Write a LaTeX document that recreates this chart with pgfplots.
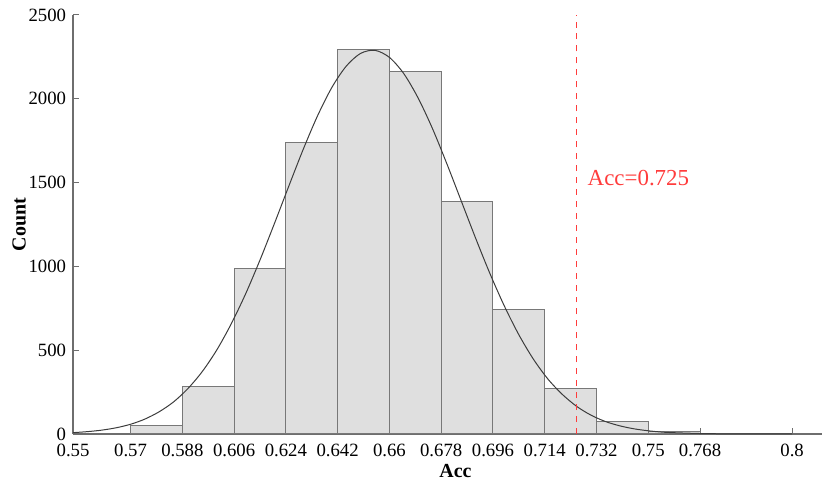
\documentclass[border=0pt]{standalone}
\usepackage{pgfplots}
\pgfplotsset{compat=1.18}
\usepackage{fontspec}
\setmainfont{Liberation Serif}

\definecolor{barfill}{RGB}{223,223,223}
\definecolor{baredge}{RGB}{120,120,120}
\definecolor{axgray}{RGB}{110,110,110}
\definecolor{fitline}{RGB}{60,60,60}
\definecolor{accred}{RGB}{255,60,60}

% histogram counts, bins of width 0.018 starting at 0.57
\pgfplotstableread{
x    count
0.570 50
0.588 285
0.606 990
0.624 1740
0.642 2295
0.660 2160
0.678 1390
0.696 740
0.714 270
0.732 75
0.750 15
0.768 0
}\histdata

\begin{document}
\begin{tikzpicture}
\begin{axis}[
  scale only axis,
  width=374.5bp, height=209.5bp,
  xmin=0.55, xmax=0.8104,
  ymin=0, ymax=2500,
  axis lines*=left,
  axis line style={axgray, line width=0.6pt},
  tick align=inside,
  major tick length=3pt,
  tick style={axgray, line width=0.5pt},
  xtick={0.55,0.57,0.588,0.606,0.624,0.642,0.66,0.678,0.696,0.714,0.732,0.75,0.768,0.8},
  xticklabels={0.55,0.57,0.588,0.606,0.624,0.642,0.66,0.678,0.696,0.714,0.732,0.75,0.768,0.8},
  ytick={0,500,1000,1500,2000,2500},
  /pgf/number format/assume math mode=true,
  /pgf/number format/1000 sep={},
  ticklabel style={font=\fontsize{9.4}{10}\selectfont},
  xticklabel style={yshift=-1.5pt},
  yticklabel style={xshift=0pt},
  xlabel={\textbf{Acc}},
  ylabel={\textbf{Count}},
  label style={font=\fontsize{10}{12}\selectfont},
  xlabel style={yshift=3.2pt, xshift=4pt},
  ylabel style={yshift=-5.5pt},
  clip=false,
]
\addplot[const plot mark left, fill=barfill, draw=baredge, line width=0.5pt]
  table[x=x, y=count] {\histdata} \closedcycle;
\addplot[ybar interval, fill=barfill, draw=baredge, line width=0.5pt]
  table[x=x, y=count] {\histdata};
% fitted normal curve
\addplot[fitline, line width=0.5pt, smooth, tension=0.5] coordinates {
(0.550,8) (0.555,14) (0.560,23) (0.565,37) (0.570,58) (0.575,89)
(0.580,133) (0.585,192) (0.590,272) (0.595,374) (0.600,502) (0.605,657)
(0.610,836) (0.615,1038) (0.620,1255) (0.625,1478) (0.630,1697) (0.635,1898)
(0.640,2068) (0.645,2195) (0.650,2271) (0.655,2289) (0.660,2247) (0.665,2150)
(0.670,2004) (0.675,1821) (0.680,1611) (0.685,1389) (0.690,1167) (0.695,955)
(0.700,762) (0.705,592) (0.710,448) (0.715,330) (0.720,238) (0.725,166)
(0.730,113) (0.735,75) (0.740,49) (0.745,31) (0.750,19) (0.755,11)
(0.760,7) (0.770,2) (0.780,1) (0.790,0) (0.800,0)
};
\addplot[accred, dashed, line width=0.5pt] coordinates {(0.725,0) (0.725,2500)};
\node[anchor=west, text=accred, font=\fontsize{11.5}{13}\selectfont]
  at (axis cs:0.7265,1530) {Acc=0.725};
\coordinate (bl) at (rel axis cs:-0.0975,-0.1074);
\coordinate (tr) at (rel axis cs:1.004,1.0358);
\end{axis}
\pgfresetboundingbox
\path[use as bounding box] (bl) rectangle (tr);
\end{tikzpicture}
\end{document}
